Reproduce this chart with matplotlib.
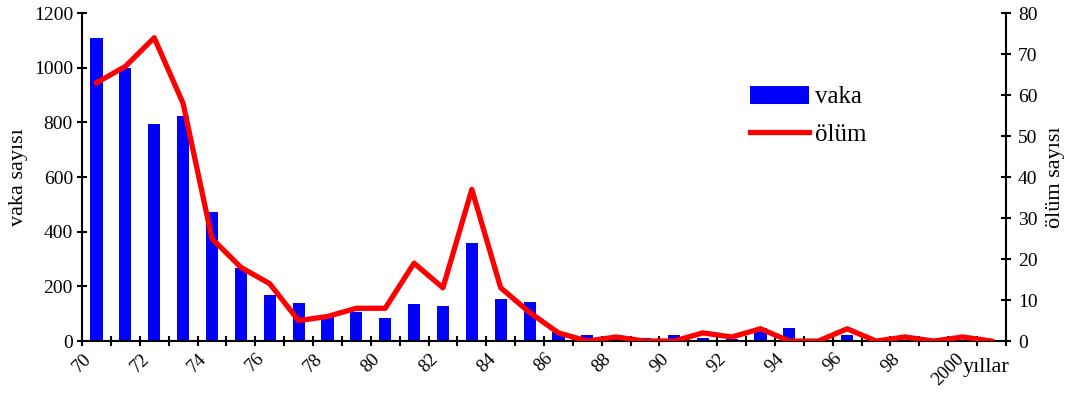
import matplotlib.pyplot as plt
import numpy as np

plt.rcParams['font.family'] = ['Liberation Serif', 'DejaVu Serif']

years = list(range(1970, 2002))
vaka = [1108, 998, 794, 824, 471, 266, 168, 138, 88, 105,
        83, 135, 127, 358, 153, 142, 33, 21, 8, 12,
        21, 13, 6, 47, 47, 0, 21, 0, 5, 0,
        2, 0]
olum = [63, 67, 74, 58, 25, 18, 14, 5, 6, 8,
        8, 19, 13, 37, 13, 7, 2, 0, 1, 0,
        0, 2, 1, 3, 0, 0, 3, 0, 1, 0,
        1, 0]
tick_labels = ['70', '72', '74', '76', '78', '80', '82', '84', '86', '88',
               '90', '92', '94', '96', '98', '2000']

fig = plt.figure(figsize=(10.75, 3.98), dpi=100)
ax = fig.add_axes([0.0763, 0.143, 0.8595, 0.824])
x = np.arange(len(years))

bars = ax.bar(x, vaka, width=0.42, color='#0000ff', label='vaka', zorder=2)
ax.set_xlim(-0.5, len(years) - 0.5)
ax.set_ylim(0, 1200)
ax.set_yticks(range(0, 1201, 200))
ax.set_ylabel('vaka sayısı', fontsize=16, labelpad=4)

edges = np.arange(len(years) + 1) - 0.5
ax.set_xticks(edges)
ax.set_xticklabels([tick_labels[i // 2] if (i % 2 == 0 and i // 2 < len(tick_labels)) else ''
                    for i in range(len(edges))], rotation=45, ha='center', fontsize=13.5)

ax2 = ax.twinx()
line, = ax2.plot(x, olum, color='#ff0000', lw=3.8, label='ölüm', zorder=3)
ax2.set_ylim(0, 80)
ax2.set_yticks(range(0, 81, 10))
ax2.set_ylabel('ölüm sayısı', fontsize=16, labelpad=6)

for a in (ax, ax2):
    a.spines['top'].set_visible(False)
    for s in ('left', 'right', 'bottom'):
        a.spines[s].set_linewidth(1.5)
    a.tick_params(direction='inout', length=7, width=1.5, labelsize=14, pad=3)
ax.tick_params(axis='x', labelsize=13.5)
ax2.tick_params(pad=5)
ax2.spines['left'].set_visible(False)
ax2.spines['bottom'].set_visible(False)
ax.spines['right'].set_visible(False)

ax.text(1.004, -0.08, 'yıllar', transform=ax.transAxes, ha='right', va='center', fontsize=16)

fig.legend([bars, line], ['vaka', 'ölüm'], loc='upper left',
           bbox_to_anchor=(0.698, 0.785), frameon=False, fontsize=18,
           handlelength=2.35, handleheight=0.75, labelspacing=0.6, handletextpad=0.25,
           borderaxespad=0, borderpad=0)

fig.savefig('out.png', dpi=100)
